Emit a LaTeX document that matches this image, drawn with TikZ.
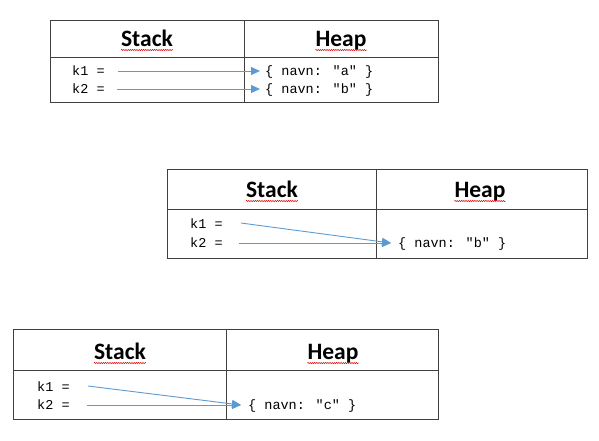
\documentclass[tikz,border=0pt]{standalone}
\usepackage{fontspec}
\setmainfont{Carlito}
\newfontfamily\codefont{Liberation Mono}
\usetikzlibrary{arrows.meta,decorations.pathmorphing}
\definecolor{arrowblue}{RGB}{91,155,213}
\begin{document}
\begin{tikzpicture}[x=1pt,y=-1pt,
  frame/.style={draw=black!75, line width=0.9pt},
  hdr/.style={font=\bfseries\fontsize{23.5}{26}\selectfont, anchor=base, inner sep=0pt},
  code/.style={font=\codefont\fontsize{13.5}{15}\selectfont, anchor=base west, inner sep=0pt},
  ptr/.style={draw=arrowblue, line width=0.9pt, -{Triangle[length=9pt,width=8pt]}},
  squig/.style={draw=red!85!black, line width=0.5pt, decorate, decoration={snake, amplitude=0.6pt, segment length=2.2pt}}]
\useasboundingbox (0,0) rectangle (599,440);

% ---------- table 1 ----------
\draw[frame] (50,20) rectangle (438,102);
\draw[frame] (50,57) -- (438,57);
\draw[frame] (244,20) -- (244,102);
\node[hdr] (s1) at (147,46) {Stack};
\node[hdr] (h1) at (341,46) {Heap};
\draw[squig] ([yshift=-4pt]s1.base west) -- ([yshift=-4pt]s1.base east);
\draw[squig] ([yshift=-4pt]h1.base west) -- ([yshift=-4pt]h1.base east);
\node[code] (k1a) at (72,75) {k1 =};
\node[code] (k2a) at (72,93) {k2 =};
\node[code] (oa) at (265,75) {\{ navn: "a" \}};
\node[code] (ob) at (265,93) {\{ navn: "b" \}};
\coordinate (p1a) at (118,71);
\coordinate (p2a) at (117,89);
\coordinate (t1a) at (260,71);
\coordinate (t2a) at (260,89);
\draw[ptr] (p1a) -- (t1a);
\draw[ptr] (p2a) -- (t2a);

% ---------- table 2 ----------
\draw[frame] (167,169) rectangle (587,258);
\draw[frame] (167,209) -- (587,209);
\draw[frame] (376,169) -- (376,258);
\node[hdr] (s2) at (272,197) {Stack};
\node[hdr] (h2) at (480,197) {Heap};
\draw[squig] ([yshift=-4pt]s2.base west) -- ([yshift=-4pt]s2.base east);
\draw[squig] ([yshift=-4pt]h2.base west) -- ([yshift=-4pt]h2.base east);
\node[code] (k1b) at (190,228) {k1 =};
\node[code] (k2b) at (190,247) {k2 =};
\node[code] (obb) at (398,247) {\{ navn: "b" \}};
\coordinate (p1b) at (241,223);
\coordinate (p2b) at (239,243);
\coordinate (tb) at (391,243);
\draw[ptr] (p1b) -- (tb);
\draw[ptr] (p2b) -- (tb);

% ---------- table 3 ----------
\draw[frame] (13,329) rectangle (438,419);
\draw[frame] (13,370) -- (438,370);
\draw[frame] (226,329) -- (226,419);
\node[hdr] (s3) at (120,359) {Stack};
\node[hdr] (h3) at (333,359) {Heap};
\draw[squig] ([yshift=-4pt]s3.base west) -- ([yshift=-4pt]s3.base east);
\draw[squig] ([yshift=-4pt]h3.base west) -- ([yshift=-4pt]h3.base east);
\node[code] (k1c) at (37,391) {k1 =};
\node[code] (k2c) at (37,409) {k2 =};
\node[code] (oc) at (248,409) {\{ navn: "c" \}};
\coordinate (p1c) at (88,386);
\coordinate (p2c) at (87,405);
\coordinate (tc) at (241,405);
\draw[ptr] (p1c) -- (tc);
\draw[ptr] (p2c) -- (tc);
\end{tikzpicture}
\end{document}
